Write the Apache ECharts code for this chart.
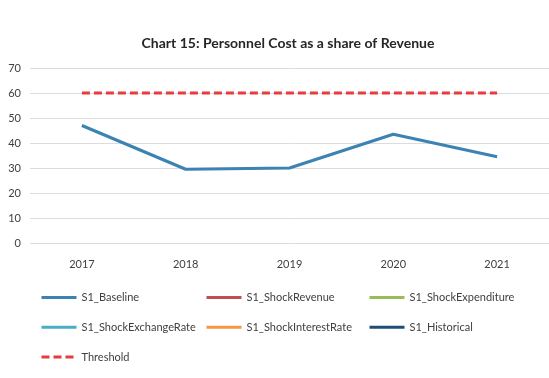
<!DOCTYPE html>
<html>
<head>
<meta charset="utf-8">
<script src="https://cdn.jsdelivr.net/npm/echarts@6/dist/echarts.min.js"></script>
<style>
  html, body { margin: 0; padding: 0; background: #ffffff; }
  #chart { width: 549px; height: 378px; }
</style>
</head>
<body>
<div id="chart"></div>
<script>
// Personnel cost as a share of revenue, baseline scenario and stress tests
const years = ['2017', '2018', '2019', '2020', '2021'];
const baseline = [47, 29.5, 30, 43.5, 34.5];
const shockRevenue = [];
const shockExpenditure = [];
const shockExchangeRate = [];
const shockInterestRate = [];
const historical = [];
const threshold = [60, 60, 60, 60, 60];

const FONT = 'Lato, "Open Sans", sans-serif';

function lineSeries(name, data, color, extra) {
  return Object.assign({
    name: name,
    type: 'line',
    data: data,
    symbol: 'none',
    lineStyle: { color: color, width: 3 },
    itemStyle: { color: color }
  }, extra || {});
}

const chart = echarts.init(document.getElementById('chart'));
const legendBase = {
  orient: 'vertical',
  top: 292,
  padding: 0,
  itemGap: 18.5,
  itemWidth: 35,
  itemHeight: 14,
  itemStyle: { opacity: 0 },
  lineStyle: { width: 3 },
  textStyle: { color: '#404040', fontSize: 11, fontFamily: FONT }
};
chart.setOption({
  backgroundColor: '#ffffff',
  animation: false,
  title: {
    text: 'Chart 15: Personnel Cost as a share of Revenue',
    left: 283,
    textAlign: 'center',
    top: 31,
    textStyle: { fontFamily: FONT, fontSize: 14, fontWeight: 'bold', color: '#262626' }
  },
  legend: [
    Object.assign({}, legendBase, { left: 40, data: ['S1_Baseline', 'S1_ShockExchangeRate', 'Threshold'] }),
    Object.assign({}, legendBase, { left: 205, data: ['S1_ShockRevenue', 'S1_ShockInterestRate'] }),
    Object.assign({}, legendBase, { left: 368, data: ['S1_ShockExpenditure', 'S1_Historical'] })
  ],
  grid: { left: 30, right: -3, top: 68, height: 175 },
  xAxis: {
    type: 'category',
    data: years,
    boundaryGap: true,
    axisLine: { show: false },
    axisTick: { show: false },
    axisLabel: { color: '#404040', fontSize: 11, fontFamily: FONT, margin: 16 }
  },
  yAxis: {
    type: 'value',
    min: 0,
    max: 70,
    interval: 10,
    axisLine: { show: false },
    axisTick: { show: false },
    splitLine: { lineStyle: { color: '#dcdcdc', width: 1 } },
    axisLabel: { color: '#404040', fontSize: 11, fontFamily: FONT, margin: 9 }
  },
  series: [
    lineSeries('S1_ShockRevenue', shockRevenue, '#c0504d'),
    lineSeries('S1_ShockExpenditure', shockExpenditure, '#9bbb59'),
    lineSeries('S1_ShockExchangeRate', shockExchangeRate, '#4bacc6'),
    lineSeries('S1_ShockInterestRate', shockInterestRate, '#f79646'),
    lineSeries('S1_Historical', historical, '#1f4e79'),
    lineSeries('S1_Baseline', baseline, '#3c82b2', { z: 3 }),
    lineSeries('Threshold', threshold, '#e83a3f', {
      lineStyle: { color: '#e83a3f', width: 3, type: [8, 4] }
    })
  ]
});
</script>
</body>
</html>
